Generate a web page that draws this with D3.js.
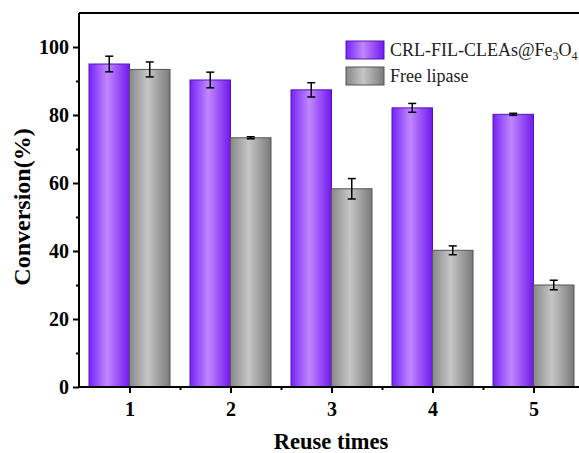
<!DOCTYPE html>
<html><head><meta charset="utf-8">
<script src="https://cdn.jsdelivr.net/npm/d3@7"></script>
<style>body{margin:0;background:#fff}svg{display:block}
svg text{font-family:"Liberation Serif","Times New Roman","DejaVu Serif",serif !important;}</style>
</head><body>
<script>
const categories = ["1","2","3","4","5"];
const seriesNames = ["CRL-FIL-CLEAs@Fe3O4","Free lipase"];
const clea = [95.0, 90.3, 87.4, 82.1, 80.2];
const cleaErr = [2.3, 2.3, 2.1, 1.3, 0.3];
const free = [93.4, 73.3, 58.3, 40.2, 30.0];
const freeErr = [2.2, 0.3, 3.0, 1.3, 1.4];
const yTicks = [0,20,40,60,80,100];

(function(){
const W=579,H=453;
const svg=d3.select("body").append("svg").attr("width",W).attr("height",H);
const defs=svg.append("defs");
function grad(id,stops){
  const g=defs.append("linearGradient").attr("id",id).attr("x1","0%").attr("x2","100%").attr("y1","0%").attr("y2","0%");
  stops.forEach(([o,c])=>g.append("stop").attr("offset",o).attr("stop-color",c));
}
grad("gp",[["0%","#7424f6"],["45%","#c187ff"],["100%","#7018ee"]]);
grad("gg",[["0%","#888888"],["45%","#c6c6c6"],["100%","#7a7a7a"]]);

const pl=79, pt=13, pb=387;
const x=d3.scaleLinear().domain([0.5,5.5]).range([pl,pl+5*101]);
const y=d3.scaleLinear().domain([0,110]).range([pb,pt]);
const bw=40.5;

const g=svg.append("g");
const series=[{v:clea,e:cleaErr,f:"url(#gp)",s:"#5a10c0",off:-1},{v:free,e:freeErr,f:"url(#gg)",s:"#555",off:0}];
series.forEach(sr=>{
  g.selectAll(null).data(categories).enter().append("rect")
    .attr("x",(d,i)=>x(i+1)+sr.off*bw).attr("width",bw)
    .attr("y",(d,i)=>y(sr.v[i])).attr("height",(d,i)=>y(0)-y(sr.v[i]))
    .attr("fill",sr.f).attr("stroke",sr.s).attr("stroke-width",1);
  const cx=i=>x(i+1)+sr.off*bw+bw/2;
  const eg=g.selectAll(null).data(categories).enter().append("g");
  eg.append("line").attr("x1",(d,i)=>cx(i)).attr("x2",(d,i)=>cx(i))
    .attr("y1",(d,i)=>y(sr.v[i]+sr.e[i])).attr("y2",(d,i)=>y(sr.v[i]-sr.e[i])).attr("stroke","#000").attr("stroke-width",1.5);
  [1,-1].forEach(sg=>eg.append("line").attr("x1",(d,i)=>cx(i)-4).attr("x2",(d,i)=>cx(i)+4)
    .attr("y1",(d,i)=>y(sr.v[i]+sg*sr.e[i])).attr("y2",(d,i)=>y(sr.v[i]+sg*sr.e[i])).attr("stroke","#000").attr("stroke-width",1.5));
});

svg.append("line").attr("x1",pl).attr("x2",W).attr("y1",pt).attr("y2",pt).attr("stroke","#000").attr("stroke-width",2);

const ya=svg.append("g").attr("transform",`translate(${pl},0)`)
  .call(d3.axisLeft(y).tickValues(yTicks).tickSize(6).tickPadding(4).tickFormat(d3.format("d")));
ya.selectAll(".tick line").attr("stroke-width",2);
ya.select(".domain").attr("stroke-width",2).attr("d",`M0,${pb}V${pt}`);
ya.selectAll("text").attr("font-weight","bold").attr("font-size",20).attr("fill","#000");
svg.append("g").attr("transform",`translate(${pl},0)`)
  .call(d3.axisLeft(y).tickValues([10,30,50,70,90]).tickSize(3).tickFormat(""))
  .call(a=>{a.select(".domain").remove();a.selectAll("line").attr("stroke-width",2);});

const xa=svg.append("g").attr("transform",`translate(0,${pb})`)
  .call(d3.axisBottom(x).tickValues([1,2,3,4,5]).tickSize(6).tickPadding(9).tickFormat((d,i)=>categories[i]));
xa.selectAll(".tick line").attr("stroke-width",2);
xa.select(".domain").attr("stroke-width",2).attr("d",`M${pl},0H${W}`);
xa.selectAll("text").attr("font-weight","bold").attr("font-size",20).attr("fill","#000");
svg.append("g").attr("transform",`translate(0,${pb})`)
  .call(d3.axisBottom(x).tickValues([1.5,2.5,3.5,4.5]).tickSize(3).tickFormat(""))
  .call(a=>{a.select(".domain").remove();a.selectAll("line").attr("stroke-width",2);});

svg.append("text").attr("transform","translate(30,207) rotate(-90)").attr("text-anchor","middle")
  .attr("font-weight","bold").attr("font-size",24).text("Conversion(%)");
svg.append("text").attr("x",331).attr("y",449).attr("text-anchor","middle")
  .attr("font-weight","bold").attr("font-size",22.5).text("Reuse times");

const lg=svg.append("g");
const lf=[["url(#gp)","#5a10c0"],["url(#gg)","#555"]];
seriesNames.forEach((n,i)=>{
  const yy=41+i*26;
  lg.append("rect").attr("x",346).attr("y",yy).attr("width",38).attr("height",18).attr("fill",lf[i][0]).attr("stroke",lf[i][1]);
  const t=lg.append("text").attr("x",390).attr("y",yy+15).attr("font-size",18).attr("fill","#222");
  if(i===0){
    t.append("tspan").text("CRL-FIL-CLEAs@Fe");
    t.append("tspan").attr("font-size",12).attr("dy",4).text("3");
    t.append("tspan").attr("dy",-4).text("O");
    t.append("tspan").attr("font-size",12).attr("dy",4).text("4");
  } else t.text(n);
});
})();
</script>
</body></html>
